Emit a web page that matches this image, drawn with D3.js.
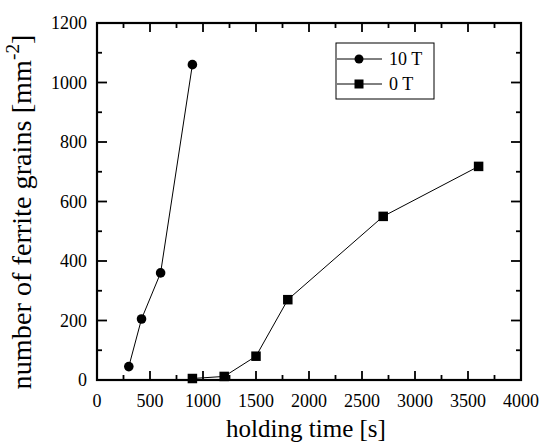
<!DOCTYPE html>
<html><head><meta charset="utf-8">
<script src="https://cdn.jsdelivr.net/npm/d3@7"></script>
<style>body{margin:0;background:#fff}svg{display:block}</style>
</head><body><div id="c"></div>
<script>
const time10T = [300, 420, 600, 900];
const grains10T = [45, 205, 360, 1060];
const time0T = [900, 1200, 1500, 1800, 2700, 3600];
const grains0T = [5, 12, 80, 270, 550, 718];
const xTicks = [0, 500, 1000, 1500, 2000, 2500, 3000, 3500, 4000];
const yTicks = [0, 200, 400, 600, 800, 1000, 1200];
const seriesNames = ["10 T", "0 T"];

const FONT = "'Liberation Serif', 'DejaVu Serif', serif";
const W = 543, H = 445;
const L = 97, R = 521, T = 23, B = 380;
const svg = d3.select("#c").append("svg").attr("width", W).attr("height", H)
  .attr("font-family", FONT);
const x = d3.scaleLinear().domain([0, 4000]).range([L, R]);
const y = d3.scaleLinear().domain([0, 1200]).range([B, T]);

const xMinor = d3.range(0, 4001, 250);
const yMinor = d3.range(0, 1201, 100);

// frame
svg.append("rect").attr("x", L).attr("y", T).attr("width", R - L).attr("height", B - T)
  .attr("fill", "none").attr("stroke", "#000").attr("stroke-width", 2.2);

const tg = svg.append("g").attr("stroke", "#000").attr("stroke-width", 1.8);
xMinor.forEach(d => {
  const len = xTicks.includes(d) ? 9 : 5;
  tg.append("line").attr("x1", x(d)).attr("x2", x(d)).attr("y1", B).attr("y2", B - len);
  tg.append("line").attr("x1", x(d)).attr("x2", x(d)).attr("y1", T).attr("y2", T + len);
});
yMinor.forEach(d => {
  const len = yTicks.includes(d) ? 10 : 5;
  tg.append("line").attr("y1", y(d)).attr("y2", y(d)).attr("x1", L).attr("x2", L + len);
  tg.append("line").attr("y1", y(d)).attr("y2", y(d)).attr("x1", R).attr("x2", R - len);
});

// tick labels
svg.append("g").selectAll("text").data(xTicks).join("text")
  .attr("x", d => x(d)).attr("y", 407).attr("text-anchor", "middle")
  .attr("font-size", 18).text(d => d);
svg.append("g").selectAll("text").data(yTicks).join("text")
  .attr("x", 87).attr("y", d => y(d) + 6).attr("text-anchor", "end")
  .attr("font-size", 18).text(d => d);

function fit(sel, target) {
  const w = sel.node().getComputedTextLength();
  const fs = +sel.attr("font-size");
  sel.attr("font-size", fs * target / w);
}
const xt = svg.append("text").attr("x", 306).attr("y", 437).attr("text-anchor", "middle")
  .attr("font-size", 21).text("holding time [s]");
fit(xt, 160);
const yt = svg.append("text").attr("transform", "translate(31,212) rotate(-90)")
  .attr("text-anchor", "middle").attr("font-size", 22);
yt.append("tspan").text("number of ferrite grains [mm");
yt.append("tspan").attr("dy", -9).attr("font-size", 15).text("-2");
yt.append("tspan").attr("dy", 9).text("]");
{
  const w = yt.node().getComputedTextLength();
  const k = 355 / w;
  yt.attr("font-size", 22 * k);
  yt.selectAll("tspan").filter((d, i) => i === 1).attr("font-size", 15 * k).attr("dy", -9 * k);
  yt.selectAll("tspan").filter((d, i) => i === 2).attr("dy", 9 * k);
}

const d10 = time10T.map((t, i) => [t, grains10T[i]]);
const d0 = time0T.map((t, i) => [t, grains0T[i]]);
const line = d3.line().x(d => x(d[0])).y(d => y(d[1]));
svg.append("path").attr("d", line(d10)).attr("fill", "none").attr("stroke", "#000").attr("stroke-width", 1);
svg.append("path").attr("d", line(d0)).attr("fill", "none").attr("stroke", "#000").attr("stroke-width", 1);
svg.append("g").selectAll("circle").data(d10).join("circle")
  .attr("cx", d => x(d[0])).attr("cy", d => y(d[1])).attr("r", 4.8).attr("fill", "#000");
const s = 9.5;
svg.append("g").selectAll("rect").data(d0).join("rect")
  .attr("x", d => x(d[0]) - s / 2).attr("y", d => y(d[1]) - s / 2)
  .attr("width", s).attr("height", s).attr("fill", "#000");

const lg = svg.append("g");
lg.append("rect").attr("x", 336).attr("y", 43).attr("width", 98).attr("height", 56)
  .attr("fill", "#fff").attr("stroke", "#000").attr("stroke-width", 1);
const ly = [59, 84];
seriesNames.forEach((n, i) => {
  lg.append("line").attr("x1", 337).attr("x2", 382).attr("y1", ly[i]).attr("y2", ly[i])
    .attr("stroke", "#000").attr("stroke-width", 1);
  if (i === 0) lg.append("circle").attr("cx", 359).attr("cy", ly[i]).attr("r", 4.5).attr("fill", "#000");
  else lg.append("rect").attr("x", 359 - 4.5).attr("y", ly[i] - 4.5).attr("width", 9).attr("height", 9).attr("fill", "#000");
  lg.append("text").attr("x", 389).attr("y", ly[i] + 6).attr("font-size", 18).text(n);
});
</script></body></html>
